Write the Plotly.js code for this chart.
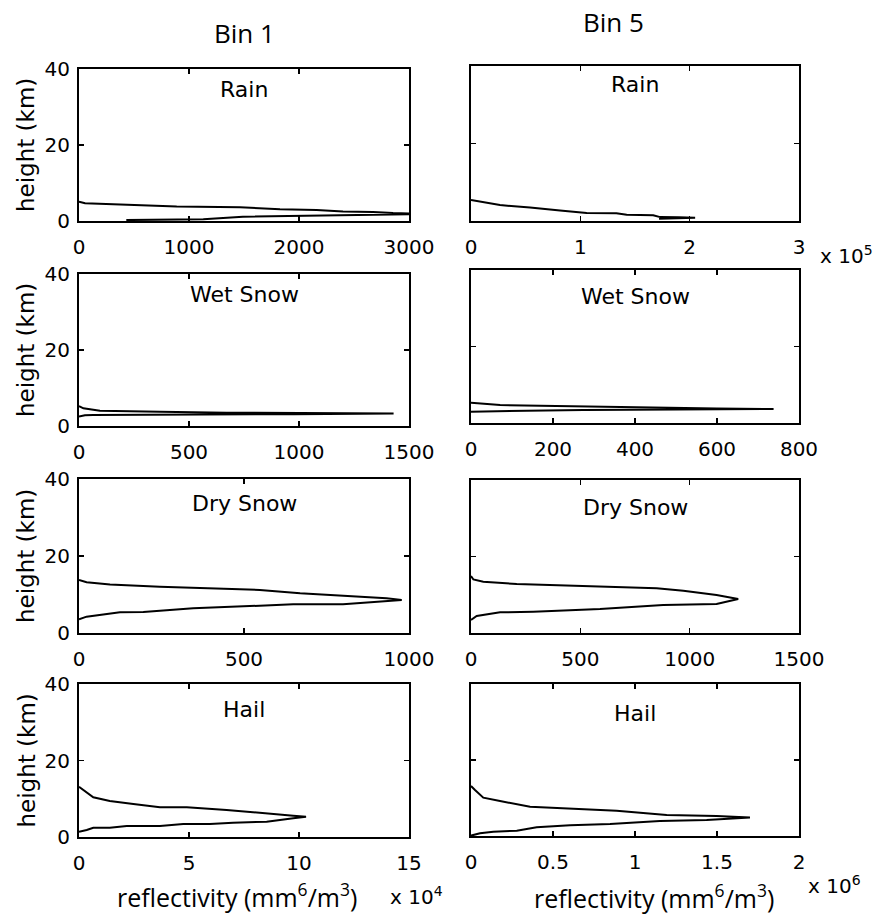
<!DOCTYPE html>
<html>
<head>
<meta charset="utf-8">
<script src="https://cdn.plot.ly/plotly-3.0.1.min.js"></script>
<style>html,body{margin:0;padding:0;background:#fff;}#chart{width:881px;height:916px;}</style>
</head>
<body>
<div id="chart"></div>
<script>
// ---------------- data (reflectivity Z vs height h in km) ----------------
const columnTitles = ["Bin 1", "Bin 5"];
const panelTitles = ["Rain", "Wet Snow", "Dry Snow", "Hail"];

// Rain
const rainBin1Z = [430, 800, 1130, 1490, 1950, 2555, 3200, 2855, 2673, 2400, 2160, 1827, 1464, 888, 433, 55, 0];
const rainBin1H = [0.25, 0.3, 0.45, 1.15, 1.3, 1.65, 1.85, 2.1, 2.4, 2.5, 2.9, 3.1, 3.6, 3.8, 4.2, 4.65, 5.1];
const rainBin5Z = [172000, 190000, 205000, 190000, 173000, 166700, 142400, 133000, 105800, 81400, 54000, 26500, 0];
const rainBin5H = [0.55, 0.7, 0.85, 0.95, 1.0, 1.5, 1.6, 2.0, 2.05, 2.7, 3.5, 4.1, 5.4];

// Wet snow
const wetBin1Z = [0, 27, 65, 595, 975, 1430, 1000, 671, 368, 95, 20, 0];
const wetBin1H = [2.46, 2.85, 2.9, 2.95, 3.1, 3.3, 3.35, 3.5, 3.77, 4.0, 4.65, 5.26];
const wetBin5Z = [0, 112, 274, 500, 738, 600, 518, 355, 193, 71, 0];
const wetBin5H = [2.96, 3.15, 3.4, 3.55, 3.66, 3.8, 3.95, 4.18, 4.44, 4.7, 5.3];

// Dry snow
const dryBin1Z = [0, 23, 124, 195, 346, 548, 649, 800, 902, 978, 932, 800, 670, 548, 397, 245, 94, 23, 0];
const dryBin1H = [3.55, 4.25, 5.4, 5.45, 6.4, 7.1, 7.45, 7.5, 8.1, 8.57, 9.0, 9.6, 10.3, 11.2, 11.6, 12.0, 12.6, 13.2, 13.77];
const dryBin5Z = [0, 26, 133, 285, 590, 879, 1123, 1222, 1123, 971, 849, 514, 209, 56, 11, 0];
const dryBin5H = [3.4, 4.44, 5.4, 5.57, 6.27, 7.3, 7.58, 8.9, 9.93, 11.06, 11.7, 12.3, 12.8, 13.4, 14.0, 14.9];

// Hail
const hailBin1Z = [0, 3500, 6500, 14000, 21700, 36800, 47400, 59500, 70000, 85300, 97400, 103200, 97400, 85300, 67100, 49000, 36800, 24700, 14000, 6500, 1950, 0];
const hailBin1H = [1.39, 1.83, 2.43, 2.45, 2.88, 2.9, 3.4, 3.42, 3.74, 4.0, 4.88, 5.3, 5.57, 6.2, 7.06, 7.76, 7.78, 8.63, 9.4, 10.37, 12.3, 13.15];
const hailBin5Z = [0, 55000, 136000, 279000, 400000, 604000, 848000, 1152000, 1437000, 1600000, 1701000, 1498000, 1193000, 888000, 543000, 360000, 177000, 75000, 24400, 0];
const hailBin5H = [0.1, 0.7, 1.13, 1.4, 2.28, 2.8, 3.16, 3.95, 4.2, 4.66, 4.9, 5.26, 5.5, 6.66, 7.45, 7.7, 9.2, 10.1, 12.1, 13.16];

// axes ranges and ticks
const heightRange = [0, 40];
const heightTicks = [0, 20, 40];
const xRanges = [[0, 3000], [0, 300000], [0, 1500], [0, 800], [0, 1000], [0, 1500], [0, 150000], [0, 2000000]];
const xTickVals = [
  [0, 1000, 2000, 3000],
  [0, 100000, 200000, 300000],
  [0, 500, 1000, 1500],
  [0, 200, 400, 600, 800],
  [0, 500, 1000],
  [0, 500, 1000, 1500],
  [0, 50000, 100000, 150000],
  [0, 500000, 1000000, 1500000, 2000000]
];
const xTickText = [
  ["0", "1000", "2000", "3000"],
  ["0", "1", "2", "3"],
  ["0", "500", "1000", "1500"],
  ["0", "200", "400", "600", "800"],
  ["0", "500", "1000"],
  ["0", "500", "1000", "1500"],
  ["0", "5", "10", "15"],
  ["0", "0.5", "1", "1.5", "2"]
];
const exponentLabels = ["x 10<sup>5</sup>", "x 10<sup>4</sup>", "x 10<sup>6</sup>"];
const yLabel = "height (km)";
const xLabel = "reflectivity (mm<sup>6</sup>/m<sup>3</sup>)";

const seriesZ = [rainBin1Z, rainBin5Z, wetBin1Z, wetBin5Z, dryBin1Z, dryBin5Z, hailBin1Z, hailBin5Z];
const seriesH = [rainBin1H, rainBin5H, wetBin1H, wetBin5H, dryBin1H, dryBin5H, hailBin1H, hailBin5H];

// ---------------- layout geometry (pixels) ----------------
const W = 881, H = 916;
const fx = p => p / W;
const fy = p => 1 - p / H;
const colX = [[79, 409], [471, 799]];
const rowY = [
  [[69, 221], [66, 221]],
  [[274, 426], [270, 423]],
  [[479, 633], [480, 633]],
  [[684, 837], [684, 836]]
];
const titleY = [[90, 85], [294, 296], [504, 508], [709, 713]];

const tickFont = {family: "DejaVu Sans", size: 20, color: "#000"};
const labelFont = {family: "Open Sans", size: 25, color: "#000"};

const data = [];
const layout = {
  width: W, height: H,
  margin: {l: 0, r: 0, t: 0, b: 0},
  paper_bgcolor: "#fff", plot_bgcolor: "#fff",
  showlegend: false,
  annotations: [],
  font: tickFont
};

for (let i = 0; i < 8; i++) {
  const row = Math.floor(i / 2), col = i % 2;
  const n = i + 1;
  data.push({
    x: seriesZ[i], y: seriesH[i], type: "scatter", mode: "lines",
    line: {color: "#000", width: 2},
    xaxis: "x" + n, yaxis: "y" + n, hoverinfo: "none"
  });
  const [t, b] = rowY[row][col];
  const common = {
    showline: true, linecolor: "#000", linewidth: 2, mirror: "ticks",
    ticks: "inside", ticklen: 5, tickwidth: 1.5, tickcolor: "#000",
    showgrid: false, zeroline: false, tickfont: tickFont, fixedrange: true
  };
  layout["xaxis" + n] = Object.assign({}, common, {
    domain: [fx(colX[col][0]), fx(colX[col][1])],
    anchor: "y" + n,
    range: xRanges[i], tickmode: "array", tickvals: xTickVals[i], ticktext: xTickText[i],
    ticklabelstandoff: 7
  });
  layout["yaxis" + n] = Object.assign({}, common, {
    domain: [fy(b), fy(t)],
    anchor: "x" + n,
    range: heightRange, tickmode: "array", tickvals: heightTicks,
    showticklabels: col === 0, ticklabelstandoff: 3
  });
  layout.annotations.push({
    xref: "paper", yref: "paper",
    x: fx((colX[col][0] + colX[col][1]) / 2), y: fy(titleY[row][col]),
    xanchor: "center", yanchor: "middle", showarrow: false,
    text: panelTitles[row], font: {family: "DejaVu Sans", size: 22, color: "#000"}
  });
  if (col === 0) {
    layout.annotations.push({
      xref: "paper", yref: "paper",
      x: fx(26), y: fy((t + b) / 2), xanchor: "center", yanchor: "middle",
      textangle: -90, showarrow: false, text: yLabel,
      font: {family: "DejaVu Sans", size: 23, color: "#000"}
    });
  }
}

// column titles
layout.annotations.push({xref: "paper", yref: "paper", x: fx(244), y: fy(33), xanchor: "center", yanchor: "middle",
  showarrow: false, text: columnTitles[0], font: {family: "Open Sans", size: 26, color: "#000"}});
layout.annotations.push({xref: "paper", yref: "paper", x: fx(613), y: fy(22), xanchor: "center", yanchor: "middle",
  showarrow: false, text: columnTitles[1], font: {family: "Open Sans", size: 26, color: "#000"}});

// x labels
layout.annotations.push({xref: "paper", yref: "paper", x: fx(237), y: fy(895), xanchor: "center", yanchor: "middle",
  showarrow: false, text: xLabel, font: labelFont});
layout.annotations.push({xref: "paper", yref: "paper", x: fx(654), y: fy(896), xanchor: "center", yanchor: "middle",
  showarrow: false, text: xLabel, font: labelFont});

// exponents
const expFont = {family: "DejaVu Sans", size: 20, color: "#000"};
layout.annotations.push({xref: "paper", yref: "paper", x: fx(818), y: fy(255), xanchor: "left", yanchor: "middle",
  showarrow: false, text: exponentLabels[0], font: expFont});
layout.annotations.push({xref: "paper", yref: "paper", x: fx(388), y: fy(896), xanchor: "left", yanchor: "middle",
  showarrow: false, text: exponentLabels[1], font: expFont});
layout.annotations.push({xref: "paper", yref: "paper", x: fx(806), y: fy(885), xanchor: "left", yanchor: "middle",
  showarrow: false, text: exponentLabels[2], font: expFont});

Plotly.newPlot("chart", data, layout, {displayModeBar: false, staticPlot: true});
</script>
</body>
</html>
